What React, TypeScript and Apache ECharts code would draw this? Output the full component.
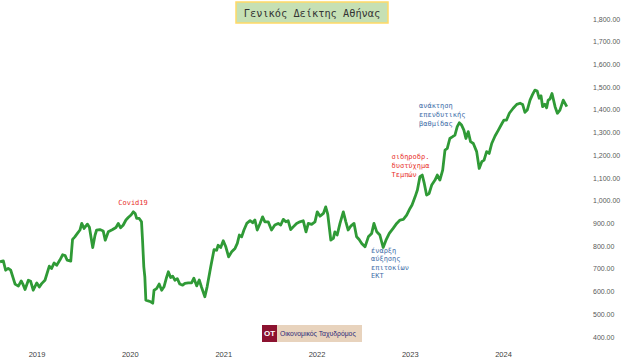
import React, { useEffect, useRef } from "react";
import * as echarts from "echarts";

const dates: string[] = [
  "2018-08-09","2018-08-22","2018-08-31","2018-09-10","2018-09-20","2018-10-07","2018-10-20","2018-10-31","2018-11-08","2018-11-15",
  "2018-11-28","2018-12-07","2018-12-17","2018-12-31","2019-01-10","2019-01-19","2019-02-01","2019-02-18","2019-02-27","2019-03-09",
  "2019-03-19","2019-04-01","2019-04-11","2019-04-21","2019-04-29","2019-05-13","2019-05-20","2019-05-29","2019-06-08","2019-06-18",
  "2019-06-25","2019-07-04","2019-07-17","2019-07-25","2019-08-07","2019-08-16","2019-08-22","2019-09-04","2019-09-17","2019-09-25",
  "2019-10-07","2019-10-24","2019-11-06","2019-11-15","2019-11-24","2019-12-04","2019-12-15","2019-12-24","2020-01-04","2020-01-13",
  "2020-01-20","2020-01-26","2020-02-05","2020-02-14","2020-02-18","2020-02-23","2020-02-27","2020-03-02","2020-03-11","2020-03-21",
  "2020-03-29","2020-04-03","2020-04-13","2020-04-23","2020-05-03","2020-05-12","2020-05-22","2020-05-29","2020-06-07","2020-06-15",
  "2020-06-24","2020-07-03","2020-07-13","2020-07-24","2020-08-02","2020-08-15","2020-08-28","2020-09-06","2020-09-17","2020-09-27",
  "2020-10-06","2020-10-19","2020-10-28","2020-11-11","2020-11-24","2020-12-04","2020-12-10","2020-12-20","2020-12-30","2021-01-09",
  "2021-01-20","2021-02-01","2021-02-14","2021-02-23","2021-03-03","2021-03-12","2021-03-21","2021-04-01","2021-04-14","2021-04-24",
  "2021-05-03","2021-05-12","2021-05-23","2021-06-02","2021-06-11","2021-06-24","2021-07-07","2021-07-20","2021-08-02","2021-08-12",
  "2021-08-22","2021-09-01","2021-09-10","2021-09-20","2021-09-30","2021-10-13","2021-10-26","2021-11-08","2021-11-19","2021-11-28",
  "2021-12-11","2021-12-24","2022-01-02","2022-01-13","2022-01-26","2022-02-04","2022-02-12","2022-02-24","2022-03-06","2022-03-12",
  "2022-03-21","2022-04-01","2022-04-14","2022-04-24","2022-05-03","2022-05-13","2022-05-26","2022-06-05","2022-06-15","2022-06-25",
  "2022-07-08","2022-07-21","2022-08-03","2022-08-12","2022-08-23","2022-09-04","2022-09-17","2022-09-28","2022-10-11","2022-10-26",
  "2022-11-09","2022-11-22","2022-12-05","2022-12-18","2022-12-31","2023-01-08","2023-01-20","2023-01-29","2023-02-08","2023-02-17",
  "2023-02-25","2023-03-06","2023-03-16","2023-03-26","2023-04-08","2023-04-17","2023-04-27","2023-05-08","2023-05-17","2023-05-26",
  "2023-06-05","2023-06-16","2023-06-25","2023-07-04","2023-07-12","2023-07-21","2023-07-30","2023-08-07","2023-08-16","2023-08-25",
  "2023-09-05","2023-09-18","2023-09-28","2023-10-08","2023-10-17","2023-10-27","2023-11-06","2023-11-16","2023-11-29","2023-12-12",
  "2023-12-26","2024-01-03","2024-01-13","2024-01-24","2024-02-08","2024-02-22","2024-03-06","2024-03-16","2024-03-25","2024-04-03",
  "2024-04-14","2024-04-24","2024-05-03","2024-05-12","2024-05-20","2024-05-27","2024-06-02","2024-06-11","2024-06-18","2024-06-24",
  "2024-07-01","2024-07-09","2024-07-21","2024-07-30","2024-08-09","2024-08-22","2024-09-05",
];

const values: number[] = [
  731,735,694,702,694,633,624,647,629,609,
  650,645,606,638,620,635,650,712,702,726,
  716,740,762,758,738,734,830,841,856,871,
  900,878,897,883,794,848,870,873,867,826,
  863,873,882,900,881,892,915,926,937,951,
  944,922,922,907,826,709,665,562,559,555,
  549,606,613,633,606,621,662,687,662,668,
  650,657,633,628,636,638,638,659,625,651,
  619,577,622,709,785,782,804,794,824,797,
  753,775,790,812,849,841,871,900,912,903,
  915,871,900,929,907,907,871,893,900,893,
  918,907,912,873,885,900,907,912,863,900,
  896,907,951,932,944,973,941,827,834,863,
  849,900,951,907,871,888,900,841,829,812,
  797,841,856,900,863,849,794,826,856,878,
  900,915,918,937,966,981,1017,1047,1106,1113,
  1076,1025,1032,1069,1091,1113,1091,1135,1223,1230,
  1274,1282,1289,1326,1343,1333,1311,1274,1304,1260,
  1252,1216,1142,1172,1179,1216,1208,1252,1285,1311,
  1340,1355,1355,1385,1407,1424,1429,1424,1389,1399,
  1443,1468,1487,1483,1451,1462,1414,1425,1409,1443,
  1448,1472,1414,1385,1399,1443,1414,
];

const yearTicks: string[] = ["2019-01-01","2020-01-01","2021-01-01","2022-01-01","2023-01-01","2024-01-01"];
const axisStart = "2018-08-09";
const axisEnd = "2024-10-07";

const titleText = "Γενικός Δείκτης Αθήνας";
const noteCovid = "Covid19";
const noteEcb = "έναρξη\nαύξησης\nεπιτοκίων\nΕΚΤ";
const noteTempi = "σιδηροδρ.\nδυστύχημα\nΤεμπών";
const noteRating = "ανάκτηση\nεπενδυτικής\nβαθμίδας";
const logoShort = "OT";
const logoName = "Οικονομικός Ταχυδρόμος";

const ts = (s: string) => {
  const [y, m, d] = s.split("-").map(Number);
  return Date.UTC(y, m - 1, d);
};

const MONO = "'DejaVu Sans Mono', 'Liberation Mono', monospace";
const SANS = "'Liberation Sans', Arial, sans-serif";

export default function App() {
  const ref = useRef<HTMLDivElement>(null);
  useEffect(() => {
    if (!ref.current) return;
    const chart = echarts.init(ref.current, null, { renderer: "svg" });
    const seriesData = dates.map((d, i) => [ts(d), values[i]]);
    const blue = "#3d6ca8";
    const red = "#e8302a";
    chart.setOption({
      animation: false,
      backgroundColor: "#ffffff",
      grid: { left: 0, right: 49, top: 19, bottom: 26 },
      xAxis: {
        type: "value",
        min: ts(axisStart),
        max: ts(axisEnd),
        scale: true,
        axisLine: { show: false },
        axisTick: { show: false },
        splitLine: { show: false },
        axisLabel: {
          customValues: yearTicks.map(ts),
          formatter: (v: number) => String(new Date(v).getUTCFullYear()),
          color: "#404040",
          fontSize: 7.5,
          fontFamily: SANS,
          margin: 13,
        },
      },
      yAxis: {
        type: "value",
        position: "right",
        min: 400,
        max: 1800,
        interval: 100,
        axisLine: { show: false },
        axisTick: { show: false },
        splitLine: { show: false },
        axisLabel: {
          color: "#595959",
          fontSize: 7,
          fontFamily: SANS,
          align: "left",
          margin: 18,
          formatter: (v: number) =>
            v.toLocaleString("en-US", { minimumFractionDigits: 2, maximumFractionDigits: 2 }),
        },
      },
      series: [
        {
          type: "line",
          data: seriesData,
          showSymbol: false,
          lineStyle: { color: "#2f9a36", width: 2.8, join: "round" },
        },
      ],
      graphic: [
        {
          type: "rect",
          shape: { x: 236, y: 2, width: 152, height: 21 },
          style: { fill: "#c6e0b4", stroke: "#ffd966", lineWidth: 1.5 },
        },
        {
          type: "text",
          x: 312,
          y: 12.5,
          style: {
            text: titleText,
            fontFamily: MONO,
            fontSize: 10.3,
            fill: "#333333",
            align: "center",
            verticalAlign: "middle",
          },
        },
        {
          type: "text",
          x: 133,
          y: 203,
          style: { text: noteCovid, fontFamily: MONO, fontSize: 7, fill: red, align: "center", verticalAlign: "middle" },
        },
        {
          type: "text",
          x: 371,
          y: 246.5,
          style: { text: noteEcb, fontFamily: MONO, fontSize: 7, lineHeight: 8.5, fill: blue, align: "left", verticalAlign: "top" },
        },
        {
          type: "text",
          x: 391.5,
          y: 153,
          style: { text: noteTempi, fontFamily: MONO, fontSize: 7, lineHeight: 8.6, fill: red, align: "left", verticalAlign: "top" },
        },
        {
          type: "text",
          x: 419,
          y: 101.5,
          style: { text: noteRating, fontFamily: MONO, fontSize: 7, lineHeight: 9.1, fill: blue, align: "left", verticalAlign: "top" },
        },
        {
          type: "rect",
          shape: { x: 262, y: 325, width: 15, height: 17 },
          style: { fill: "#8c1230" },
        },
        {
          type: "rect",
          shape: { x: 277, y: 325, width: 85, height: 17 },
          style: { fill: "#e8d3bd" },
        },
        {
          type: "text",
          x: 269.5,
          y: 333.5,
          style: { text: logoShort, fontFamily: SANS, fontSize: 8, fontWeight: "bold", fill: "#ffffff", align: "center", verticalAlign: "middle" },
        },
        {
          type: "text",
          x: 280,
          y: 333.5,
          style: { text: logoName, fontFamily: SANS, fontSize: 6.8, fill: "#2c2a78", align: "left", verticalAlign: "middle" },
        },
      ],
    });
    return () => chart.dispose();
  }, []);
  return (
    <div
      ref={ref}
      style={{ position: "fixed", left: 0, top: 0, width: 624, height: 363, background: "#fff" }}
    />
  );
}
